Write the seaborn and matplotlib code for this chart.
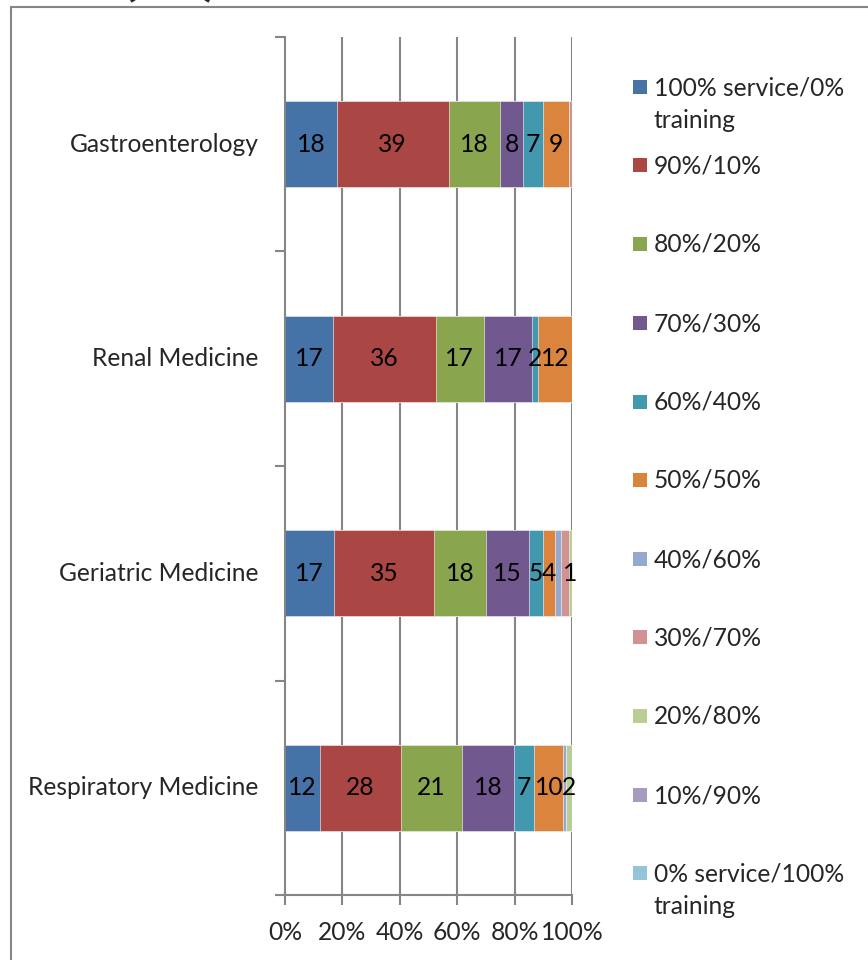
import matplotlib
matplotlib.use("Agg")
import matplotlib.pyplot as plt
import seaborn as sns
import numpy as np
import pandas as pd
from matplotlib.patches import Rectangle
from matplotlib.lines import Line2D

# ---- data ----
categories = ["Gastroenterology", "Renal Medicine", "Geriatric Medicine", "Respiratory Medicine"]
series_names = ["100% service/0%\ntraining", "90%/10%", "80%/20%", "70%/30%", "60%/40%",
                "50%/50%", "40%/60%", "30%/70%", "20%/80%", "10%/90%",
                "0% service/100%\ntraining"]
s100_0 = [18, 17, 17, 12]
s90_10 = [39, 36, 35, 28]
s80_20 = [18, 17, 18, 21]
s70_30 = [8, 17, 15, 18]
s60_40 = [7, 2, 5, 7]
s50_50 = [9, 12, 4, 10]
s40_60 = [0, 0, 2, 1]
s30_70 = [1, 0, 3, 0]
s20_80 = [0, 0, 1, 2]
s10_90 = [0, 0, 0, 0]
s0_100 = [0, 0, 0, 0]
series_values = [s100_0, s90_10, s80_20, s70_30, s60_40, s50_50,
                 s40_60, s30_70, s20_80, s10_90, s0_100]
# labels not displayed in the original
hidden_labels = [("Gastroenterology", "30%/70%"), ("Geriatric Medicine", "40%/60%"),
                 ("Geriatric Medicine", "30%/70%"), ("Respiratory Medicine", "40%/60%")]
x_ticks = [0, 20, 40, 60, 80, 100]
x_ticklabels = ["0%", "20%", "40%", "60%", "80%", "100%"]

colors = ["#4572A7", "#AA4643", "#89A54E", "#71588F", "#4198AF", "#DB843D",
          "#93A9CF", "#D19392", "#B9CD96", "#A99BBD", "#92C5D7"]

# ---- figure ----
sns.set_style("white")
plt.rcParams["font.family"] = ["Lato", "DejaVu Sans"]
FS = 17.7

W, H = 868, 960
fig = plt.figure(figsize=(W / 100, H / 100), dpi=100)
ax = fig.add_axes([285 / W, 1 - 895 / H, (572 - 285) / W, (895 - 37) / H])

vals = np.array(series_values, dtype=float)  # series x category
totals = vals.sum(axis=0)
pct = vals / totals * 100
cum = np.cumsum(pct, axis=0)

df = pd.DataFrame({"category": categories})
for i in reversed(range(len(series_names))):
    df["cum"] = cum[i]
    sns.barplot(data=df, x="cum", y="category", order=categories, color=colors[i],
                saturation=1, width=0.4, ax=ax, edgecolor="white", linewidth=0.4,
                orient="h")

# data labels
for i, name in enumerate(series_names):
    for j, cat in enumerate(categories):
        v = vals[i, j]
        if v <= 0 or (cat, name) in hidden_labels:
            continue
        center = cum[i, j] - pct[i, j] / 2
        ax.text(center, j, f"{int(v)}", ha="center", va="center", fontsize=FS, color="black")

ax.set_xlim(0, 100)
ax.set_ylim(3.5, -0.5)
ax.set_xticks(x_ticks)
ax.set_xticklabels(x_ticklabels, fontsize=FS)
ax.set_yticks([-0.5, 0.5, 1.5, 2.5, 3.5])
ax.set_yticklabels([])
ax.set_xlabel("")
ax.set_ylabel("")
gc = "#868686"
ax.grid(False)
for x in x_ticks[1:]:
    ax.axvline(x, color=gc, lw=1.5, zorder=0)
for s in ["top", "right"]:
    ax.spines[s].set_visible(False)
for s in ["left", "bottom"]:
    ax.spines[s].set_color(gc)
    ax.spines[s].set_linewidth(1.5)
ax.tick_params(axis="both", which="both", direction="out", length=7, width=1.5, color=gc,
               left=True, bottom=True, pad=12)
ax.set_axisbelow(True)

# category labels
for j, cat in enumerate(categories):
    ax.annotate(cat, xy=(0, j), xycoords=("axes fraction", "data"), xytext=(-19, 0),
                textcoords="offset points", ha="right", va="center", fontsize=FS)

# legend (manual layout, Excel style)
leg_y = [87, 165, 244, 323, 402, 480, 559, 637, 716, 795, 873]
for i, name in enumerate(series_names):
    y = leg_y[i]
    fig.add_artist(Rectangle((633 / W, 1 - (y + 7) / H), 14 / W, 14 / H,
                             transform=fig.transFigure, facecolor=colors[i], edgecolor="none"))
    fig.text(654 / W, 1 - (y - 11) / H, name, ha="left", va="top", fontsize=FS,
             linespacing=1.5)

# outer frame
fig.add_artist(Line2D([11 / W, 11 / W], [0, 1 - 7 / H], transform=fig.transFigure,
                      color=gc, lw=1.5))
fig.add_artist(Line2D([11 / W, 1], [1 - 7 / H, 1 - 7 / H], transform=fig.transFigure,
                      color=gc, lw=1.5))

# clipped title (only its lower edge shows in the original)
fig.text(170 / W, 1 + 8 / H, "( b )", ha="center", va="baseline", fontsize=44,
         fontweight="bold")

fig.savefig("out.png", dpi=100)
